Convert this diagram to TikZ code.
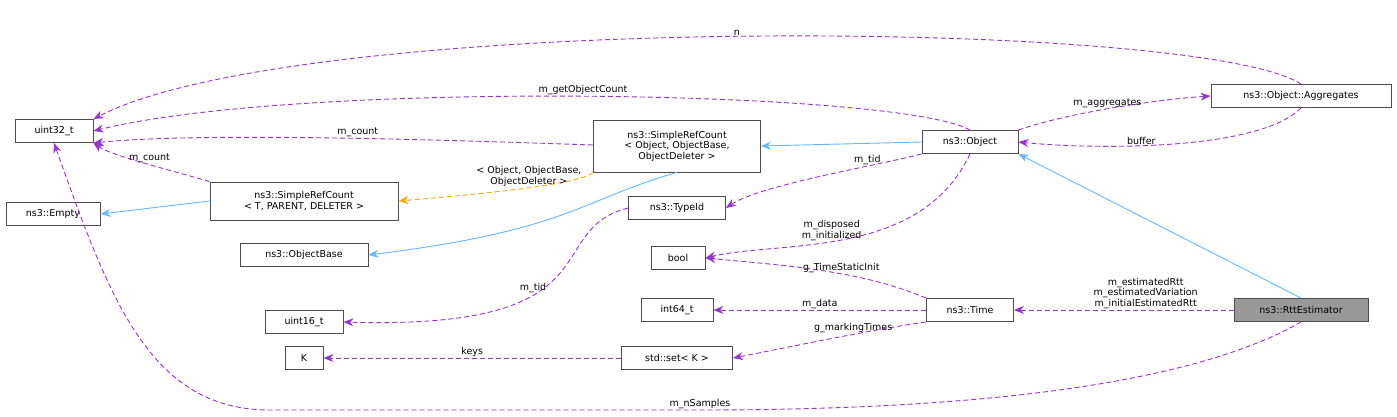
\documentclass[tikz,border=0pt]{standalone}
\usepackage{fontspec}
\setmainfont{DejaVu Sans}
\usetikzlibrary{arrows.meta}
\begin{document}
\begin{tikzpicture}[x=1pt,y=-1pt,font=\fontsize{9.5}{10.5}\selectfont,line width=0.9pt,
  box/.style={draw=black!70,fill=white,inner sep=0pt,minimum height=23pt,align=center},
  use/.style={color={rgb,255:red,154;green,50;blue,205},dash pattern=on 5pt off 3pt,-{Stealth[length=10pt,width=8pt]}},
  inh/.style={draw={rgb,255:red,99;green,184;blue,255},-{Stealth[length=10pt,width=8pt]}},
  tmpl/.style={draw={rgb,255:red,255;green,165;blue,0},dash pattern=on 5pt off 3pt,-{Stealth[length=10pt,width=8pt]}},
  lbl/.style={text=black,align=center,inner sep=1pt}]
\useasboundingbox (0,0) rectangle (1397,416);
\node[box,minimum width=78pt] (u32) at (54,131) {uint32\_t};
\node[box,minimum width=94pt] (empty) at (53,214) {ns3::Empty};
\node[box,minimum width=188pt,minimum height=38pt] (srct) at (304,201) {ns3::SimpleRefCount\\< T, PARENT, DELETER >};
\node[box,minimum width=128pt] (ob) at (304,255) {ns3::ObjectBase};
\node[box,minimum width=78pt] (u16) at (304,322) {uint16\_t};
\node[box,minimum width=38pt] (K) at (304,358) {K};
\node[box,minimum width=167pt,minimum height=52pt] (srco) at (677,146) {ns3::SimpleRefCount\\< Object, ObjectBase,\\ObjectDeleter >};
\node[box,minimum width=97pt] (tid) at (677,208) {ns3::TypeId};
\node[box,minimum width=54pt] (bool) at (678,258) {bool};
\node[box,minimum width=72pt] (i64) at (677,310) {int64\_t};
\node[box,minimum width=111pt] (set) at (677,358) {std::set< K >};
\node[box,minimum width=96pt] (obj) at (970,142) {ns3::Object};
\node[box,minimum width=87pt] (time) at (970,310) {ns3::Time};
\node[box,minimum width=180pt] (agg) at (1301,96) {ns3::Object::Aggregates};
\node[box,minimum width=134pt,fill=black!40] (rtt) at (1301,310) {ns3::RttEstimator};

\draw[use] (agg.north) .. controls (1200,18) and (300,12) .. node[lbl,above,pos=0.5]{n} (u32.north east);
\draw[use] (obj.north) .. controls (900,90) and (300,80) .. node[lbl,above,pos=0.5]{m\_getObjectCount} (u32.east);
\draw[use] (srco.west |- 0,145) .. controls (450,140) and (200,132) .. node[lbl,above,pos=0.45]{m\_count} (u32.south east);
\draw[use] (srct.north west) .. controls (170,170) and (110,155) .. node[lbl,above,pos=0.45]{m\_count} (u32.south east);
\draw[inh] (srct.west) -- (empty.east);
\draw[tmpl] (srco.south west) .. controls (580,185) and (470,195) .. node[lbl,above,pos=0.45]{< Object, ObjectBase,\\ObjectDeleter >} (srct.east);
\draw[inh] (srco.south) .. controls (580,200) and (570,230) .. (ob.east);
\draw[inh] (obj.west) -- (srco.east);
\draw[use] (obj.south west) .. controls (880,165) and (760,185) .. node[lbl,above,pos=0.3]{m\_tid} (tid.east);
\draw[use] (obj.north east) .. controls (1060,115) and (1150,100) .. node[lbl,above,pos=0.5]{m\_aggregates} (agg.west);
\draw[use] (agg.south) .. controls (1260,150) and (1100,150) .. node[lbl,above,pos=0.6]{buffer} (obj.east);
\draw[use] (obj.south) .. controls (920,260) and (780,240) .. node[lbl,above,pos=0.55]{m\_disposed\\m\_initialized} (bool.east);
\draw[inh] (rtt.north) -- (obj.south east);
\draw[use] (time.north west) .. controls (860,270) and (780,265) .. node[lbl,above,pos=0.4]{g\_TimeStaticInit} (bool.east);
\draw[use] (time.west) -- node[lbl,above]{m\_data} (i64.east);
\draw[use] (time.south west) .. controls (870,330) and (800,345) .. node[lbl,above,pos=0.4]{g\_markingTimes} (set.east);
\draw[use] (set.west) -- node[lbl,above]{keys} (K.east);
\draw[use] (tid.west) .. controls (540,230) and (620,330) .. node[lbl,above,pos=0.62]{m\_tid} (u16.east);
\draw[use] (rtt.west) -- node[lbl,above,pos=0.4]{m\_estimatedRtt\\m\_estimatedVariation\\m\_initialEstimatedRtt} (time.east);
\draw[use] (rtt.south) .. controls (1200,380) and (1000,410) .. (700,410) node[lbl,above]{m\_nSamples} -- (270,410) .. controls (150,410) and (110,300) .. (u32.south);
\end{tikzpicture}
\end{document}
